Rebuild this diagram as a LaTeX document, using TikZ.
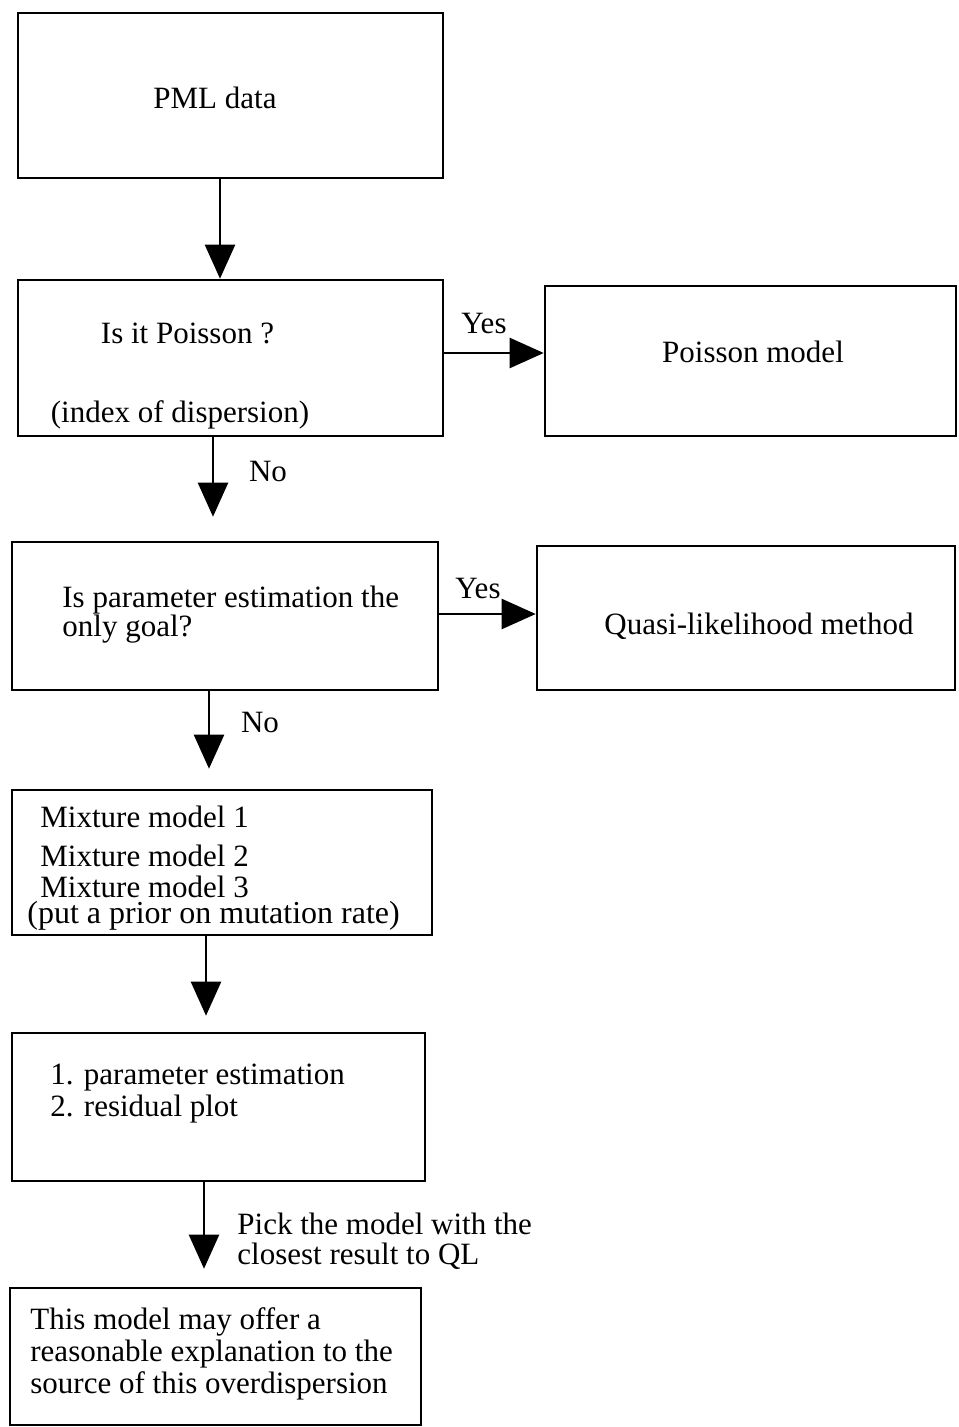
\documentclass[tikz,border=0pt]{standalone}
\usepackage{fontspec}
\setmainfont{Liberation Serif}
\usetikzlibrary{arrows.meta}
\begin{document}
\begin{tikzpicture}[x=0.5pt,y=-0.5pt,
  box/.style={draw,line width=1.3pt,inner sep=0pt},
  txt/.style={inner sep=0pt,font=\fontsize{15.5}{15.5}\selectfont},
  flow/.style={line width=1.2pt,-{Triangle[width=15pt,length=17pt]}}]
\useasboundingbox (0,0) rectangle (958,1427);
% boxes
\node[box,minimum width=212.5pt,minimum height=82.5pt] (pml) at (230.5,95.5) {};
\node[box,minimum width=212.5pt,minimum height=78pt] (pois) at (230.5,358) {};
\node[box,minimum width=205.5pt,minimum height=75pt] (pm) at (750.5,361) {};
\node[box,minimum width=213pt,minimum height=74pt] (goal) at (225,616) {};
\node[box,minimum width=209pt,minimum height=72pt] (ql) at (746,618) {};
\node[box,minimum width=210pt,minimum height=72.5pt] (mix) at (222,862.5) {};
\node[box,minimum width=206.5pt,minimum height=74pt] (est) at (218.5,1107) {};
\node[box,minimum width=205.5pt,minimum height=68.5pt] (fin) at (215.5,1356.5) {};
% texts
\node[txt] (t1) at (215,98) {PML data};
\node[txt] (t2) at (187.5,333) {Is it Poisson ?};
\node[txt] (t3) at (180,415) {(index of dispersion)};
\node[txt] (t4) at (753,352) {Poisson model};
\node[txt,anchor=west,align=left,font=\fontsize{15.5}{14.5}\selectfont] (t5) at (62,615) {Is parameter estimation the\\only goal?};
\node[txt] (t6) at (759,626) {Quasi-likelihood method};
\node[txt,anchor=west] (m1) at (40,817) {Mixture model 1};
\node[txt,anchor=west] (m2) at (40,856) {Mixture model 2};
\node[txt,anchor=west] (m3) at (40,887) {Mixture model 3};
\node[txt,anchor=west,font=\fontsize{16}{16}\selectfont] (m4) at (27,916) {(put a prior on mutation rate)};
\node[txt,anchor=west] (s1) at (50,1078) {1. parameter estimation};
\node[txt,anchor=west] (s2) at (50,1109) {2. residual plot};
\node[txt,anchor=west,align=left,font=\fontsize{15.5}{15}\selectfont] (pk) at (237,1241) {Pick the model with the\\closest result to QL};
\node[txt,anchor=west,align=left,font=\fontsize{15.5}{16}\selectfont] (t9) at (30,1354) {This model may offer a\\reasonable explanation to the\\source of this overdispersion};
% arrow labels
\node[txt] (y1) at (484,324) {Yes};
\node[txt] (n1) at (268,472) {No};
\node[txt] (y2) at (478,588) {Yes};
\node[txt] (n2) at (260,722) {No};
% connectors
\coordinate (c1) at (220,0);
\coordinate (c2) at (213,0);
\coordinate (c3) at (209,0);
\coordinate (c4) at (206,0);
\coordinate (c5) at (204,0);
\coordinate (h1) at (0,353);
\coordinate (h2) at (0,614);
\draw[flow] (pml.south -| c1) -- (pois.north -| c1);
\draw[flow] (pois.east |- h1) -- (pm.west |- h1);
\draw[flow] (pois.south -| c2) -- ([yshift=12pt]goal.north -| c2);
\draw[flow] (goal.east |- h2) -- (ql.west |- h2);
\draw[flow] (goal.south -| c3) -- ([yshift=10pt]mix.north -| c3);
\draw[flow] (mix.south -| c4) -- ([yshift=8pt]est.north -| c4);
\draw[flow] (est.south -| c5) -- ([yshift=9pt]fin.north -| c5);
\end{tikzpicture}
\end{document}
